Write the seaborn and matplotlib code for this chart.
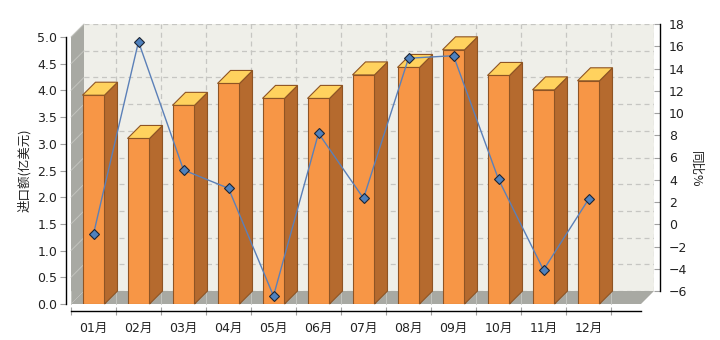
import numpy as np
import pandas as pd
import matplotlib
matplotlib.use('Agg')
import matplotlib.pyplot as plt
import matplotlib.transforms as mtransforms
from matplotlib.patches import Polygon
from matplotlib.lines import Line2D
import seaborn as sns

# ---------------- data ----------------
months = ['01月', '02月', '03月', '04月', '05月', '06月',
          '07月', '08月', '09月', '10月', '11月', '12月']
import_values = [3.91, 3.10, 3.72, 4.13, 3.85, 3.85, 4.29, 4.43, 4.76, 4.28, 4.01, 4.18]
yoy_values = [-0.88, 16.41, 4.88, 3.23, -6.45, 8.18, 2.33, 14.92, 15.15, 4.04, -4.11, 2.24]
left_ticks = [0.0, 0.5, 1.0, 1.5, 2.0, 2.5, 3.0, 3.5, 4.0, 4.5, 5.0]
right_ticks = [-6, -4, -2, 0, 2, 4, 6, 8, 10, 12, 14, 16, 18]
left_label = '进口额(亿美元)'
right_label = '同比%'

# ---------------- style ----------------
FRONT = '#F79646'
SIDE = '#B56A2E'
TOP = '#FFD25E'
EDGE = '#8E5424'
WALL = '#A8A9A3'
BACK = '#EFEFE9'
GRID = '#C6C6C2'
LINE = '#5B80B8'
MFACE = '#4F81BD'
MEDGE = '#1C2433'
TXT = '#222222'

sns.set_theme(style='white')
plt.rcParams['font.family'] = ['DejaVu Sans', 'Noto Sans CJK SC']

W, H = 720, 340
DEPTH = 13          # pixel depth of the pseudo-3D
PPU = 45            # pixels per category slot
fig = plt.figure(figsize=(W / 100, H / 100), dpi=100)
fig.patch.set_facecolor('white')

# front plane axes (bars) and back plane axes (walls / line)
ax = fig.add_axes([71 / W, (H - 304) / H, 570 / W, 267 / H])
axb = fig.add_axes([(71 + DEPTH) / W, (H - 304 + DEPTH) / H, 570 / W, 267 / H])
ax3 = axb.twinx()
axb.set_zorder(0)
ax.set_zorder(1)
ax3.set_zorder(2)

# ---------------- bars ----------------
df = pd.DataFrame({'month': months, 'value': import_values})
sns.barplot(data=df, x='month', y='value', ax=ax, color=FRONT, width=22 / PPU,
            edgecolor=EDGE, linewidth=0.8, saturation=1)

# ---------------- line ----------------
xpos = np.arange(len(months))
sns.lineplot(x=xpos, y=yoy_values, ax=ax3, color=LINE, linewidth=1.0,
             marker='D', markersize=5.6, markerfacecolor=MFACE,
             markeredgecolor=MEDGE, markeredgewidth=0.8, clip_on=False)

# ---------------- limits ----------------
xl = (-0.5, -0.5 + 570 / PPU)
ax.set_xlim(xl)
ax.set_ylim(0, 5)
xlb = (xl[0] + DEPTH / PPU, xl[1] + DEPTH / PPU)
axb.set_xlim(xlb)
axb.set_ylim(0, 5)
ax3.set_ylim(-6, 18)

# ---------------- front axes styling ----------------
ax.patch.set_visible(False)
for s in ['top', 'right']:
    ax.spines[s].set_visible(False)
ax.spines['left'].set_position(('outward', 3.6))
ax.spines['bottom'].set_position(('outward', 5.0))
for s in ['left', 'bottom']:
    ax.spines[s].set_color('black')
    ax.spines[s].set_linewidth(1.0)
ax.set_yticks(left_ticks)
ax.set_yticklabels([f'{t:.1f}' for t in left_ticks])
ax.tick_params(axis='y', direction='out', length=4.3, width=0.8, color='#A0A0A0',
               labelsize=9, labelcolor=TXT, pad=2.0, left=True)
ax.set_xticks(xpos)
ax.set_xticklabels(months)
ax.set_xticks(np.arange(-0.5, len(months), 1.0), minor=True)
ax.tick_params(axis='x', which='major', length=0, labelsize=9, labelcolor=TXT, pad=8)
ax.tick_params(axis='x', which='minor', direction='inout', length=5.8, width=0.8,
               color='#A0A0A0', bottom=True)
ax.set_xlabel('')
ax.set_ylabel(left_label, fontsize=9, color=TXT,
              family=['Noto Sans CJK SC', 'DejaVu Sans'])
ax.yaxis.set_label_coords((31 - 71) / 570, 0.5)

# ---------------- back wall ----------------
axb.set_facecolor(BACK)
for s in axb.spines.values():
    s.set_visible(False)
axb.set_xticks(list(np.arange(-0.5, len(months), 1.0)) + [xlb[1]])
axb.set_yticks(left_ticks)
axb.tick_params(axis='both', length=0, labelbottom=False, labelleft=False)
axb.grid(True, linestyle=(0, (4, 3)), color=GRID, linewidth=0.9)
axb.set_axisbelow(True)

# ---------------- right axis ----------------
for s in ['top', 'left', 'bottom']:
    ax3.spines[s].set_visible(False)
ax3.spines['right'].set_position(('outward', 4.3))
ax3.spines['right'].set_color('black')
ax3.spines['right'].set_linewidth(1.0)
ax3.set_yticks(right_ticks)
ax3.tick_params(axis='y', direction='in', length=4.3, width=0.8, color='#A0A0A0',
                labelsize=9, labelcolor=TXT, pad=6.5, right=True)
ax3.grid(False)
ax3.set_xlim(xlb)
ax3.set_ylabel(right_label, fontsize=9, color=TXT, rotation=-90, va='center', ha='center',
               family=['Noto Sans CJK SC', 'DejaVu Sans'])
ax3.yaxis.set_label_coords((696 - 84) / 570, (291 - 169) / 267)

# ---------------- pseudo 3D: walls & floor ----------------
ident = mtransforms.IdentityTransform()
F = lambda u, v: ax.transAxes.transform((u, v))
B = lambda u, v: axb.transAxes.transform((u, v))
wall = Polygon([F(0, 0), F(0, 1), B(0, 1), B(0, 0)], closed=True, facecolor=WALL,
               edgecolor='none', transform=ident, clip_on=False, zorder=1)
floor = Polygon([F(0, 0), F(1, 0), B(1, 0), B(0, 0)], closed=True, facecolor=WALL,
                edgecolor='none', transform=ident, clip_on=False, zorder=1)
axb.add_artist(wall)
axb.add_artist(floor)
for t in left_ticks[1:]:
    p0 = ax.transData.transform((xl[0], t))
    p1 = axb.transData.transform((xlb[0], t))
    axb.add_artist(Line2D([p0[0], p1[0]], [p0[1], p1[1]], color='#C2C3BE', lw=0.7,
                          transform=ident, clip_on=False, zorder=2))
for b in np.arange(-0.5, len(months), 1.0):
    p0 = ax.transData.transform((b, 0))
    p1 = axb.transData.transform((b, 0))
    axb.add_artist(Line2D([p0[0], p1[0]], [p0[1], p1[1]], color='#C2C3BE', lw=0.7,
                          transform=ident, clip_on=False, zorder=2))

# ---------------- pseudo 3D: bars ----------------
for p in list(ax.patches):
    x0 = p.get_x()
    w = p.get_width()
    h = p.get_height()
    X0, Y0 = ax.transData.transform((x0, 0))
    X1, Y1 = ax.transData.transform((x0 + w, h))
    side = Polygon([(X1, Y0), (X1, Y1), (X1 + DEPTH, Y1 + DEPTH), (X1 + DEPTH, Y0 + DEPTH)],
                   closed=True, facecolor=SIDE, edgecolor=EDGE, linewidth=0.8,
                   transform=ident, clip_on=False, zorder=p.get_zorder())
    top = Polygon([(X0, Y1), (X1, Y1), (X1 + DEPTH, Y1 + DEPTH), (X0 + DEPTH, Y1 + DEPTH)],
                  closed=True, facecolor=TOP, edgecolor=EDGE, linewidth=0.8,
                  transform=ident, clip_on=False, zorder=p.get_zorder())
    ax.add_artist(side)
    ax.add_artist(top)

fig.savefig('out.png', dpi=100)
